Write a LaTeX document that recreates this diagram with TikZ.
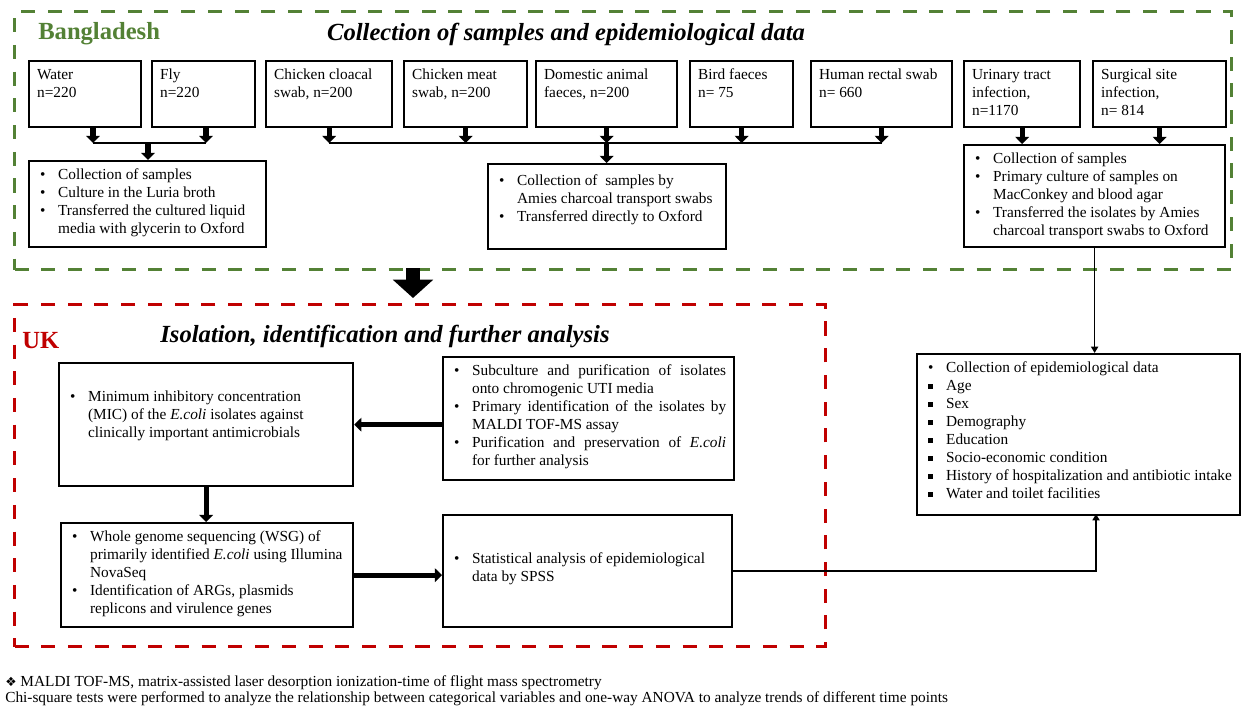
\documentclass[tikz,border=0pt]{standalone}
\usepackage{fontspec}
\setmainfont{Liberation Serif}
\newfontfamily\symfont{DejaVu Sans}
\usepackage{enumitem}
\usetikzlibrary{positioning,calc,arrows.meta}
\definecolor{BdGreen}{HTML}{538135}
\definecolor{UkRed}{HTML}{C00000}
\newlength\pu
\setlength\pu{0.025cm}
\newcommand\cell[3]{\parbox[t][\dimexpr#2\pu-16\pu\relax][t]{\dimexpr#1\pu-16\pu\relax}{\raggedright #3}}
\newcommand\jcell[3]{\parbox[t][\dimexpr#2\pu-16\pu\relax][t]{\dimexpr#1\pu-16\pu\relax}{#3}}
\newenvironment{blist}{\begin{itemize}[nosep,leftmargin=21\pu,labelwidth=18\pu,labelsep=3\pu,align=left,label=\hspace{3\pu}\textbullet]}{\end{itemize}}
\newcommand\sqb{\hspace{3\pu}\rule[0.12em]{0.33em}{0.33em}}

\begin{document}
\begin{tikzpicture}[x=0.025cm, y=-0.025cm,
  box/.style={draw, line width=1.6pt, anchor=north west, inner xsep=8\pu, inner ysep=8\pu, font=\fontsize{10.9}{12.8}\selectfont},
  regionbox/.style={line width=2.4pt, dash pattern=on 10pt off 9pt, anchor=north west, inner sep=0pt},
  place/.style={font=\fontsize{17.5}{20}\selectfont\bfseries, anchor=base west, inner sep=0pt},
  regiontitle/.style={font=\fontsize{17.5}{20}\selectfont\bfseries\itshape, anchor=base, inner sep=0pt},
  thickarr/.style={line width=3.6pt, -{Triangle[length=5pt,width=9.5pt]}},
  thinarr/.style={line width=1.1pt, -{Triangle[length=4.5pt,width=5pt]}},
  joinline/.style={line width=1.1pt},
  bigarr/.style={line width=10.5pt, -{Triangle[length=13pt,width=28pt]}}]
  \useasboundingbox (0,0) rectangle (1241,711);

  %% Dashed regions
  \node[regionbox, draw=BdGreen, minimum width=1217\pu, minimum height=258\pu] (bd) at (13,10) {};
  \node[regionbox, draw=UkRed, minimum width=811\pu, minimum height=342\pu] (uk) at (13,303) {};
  \node[place, color=BdGreen] (bdname) at (38,39) {Bangladesh};
  \node[regiontitle] (bdtitle) at (566,40) {Collection of samples and epidemiological data};
  \node[place, color=UkRed] (ukname) at (22,348) {UK};
  \node[regiontitle] (uktitle) at (385,342) {Isolation, identification and further analysis};

  %% Sample sources
  \foreach \nm/\x/\w/\txt in {water/28/112/{Water\\n=220}, fly/151/103/{Fly\\n=220},
      cloacal/265/126/{Chicken cloacal\\swab, n=200}, meat/403/123/{Chicken meat\\swab, n=200},
      dom/535/141/{Domestic animal\\faeces, n=200}, bird/689/103/{Bird faeces\\n= 75},
      human/810/141/{Human rectal swab\\n= 660}, uti/963/116/{Urinary tract\\infection,\\n=1170},
      ssi/1092/133/{Surgical site\\infection,\\n= 814}} {%
    \node[box] (\nm) at (\x,60) {\cell{\w}{66}{\txt}};
  }

  %% Collection steps
  \node[box] (coll1) at (28,160) {\cell{237}{86}{\begin{blist}
    \item Collection of samples
    \item Culture in the Luria broth
    \item Transferred the cultured liquid\\media with glycerin to Oxford
  \end{blist}}};
  \node[box] (coll2) at (487,163) {\cell{238}{85}{\vspace*{3\pu}\begin{blist}
    \item Collection of\ \ samples by\\Amies charcoal transport swabs
    \item Transferred directly to Oxford
  \end{blist}}};
  \node[box] (coll3) at (963,144) {\cell{261}{102}{\begin{blist}
    \item Collection of samples
    \item Primary culture of samples on\\MacConkey and blood agar
    \item Transferred the isolates by Amies\\charcoal transport swabs to Oxford
  \end{blist}}};

  %% Laboratory steps
  \node[box] (mic) at (58,362) {\cell{294}{123}{\vspace*{20\pu}\begin{blist}
    \item Minimum inhibitory concentration\\(MIC) of the \textit{E.coli} isolates against\\clinically important antimicrobials
  \end{blist}}};
  \node[box] (sub) at (442,356) {\jcell{291}{123}{\begin{blist}
    \item Subculture and purification of isolates\linebreak onto chromogenic UTI media
    \item Primary identification of the isolates by\linebreak MALDI TOF-MS assay
    \item Purification and preservation of \textit{E.coli}\linebreak for further analysis
  \end{blist}}};
  \node[box] (wgs) at (60,522) {\cell{292}{104}{\begin{blist}
    \item Whole genome sequencing (WSG) of\\primarily identified \textit{E.coli} using Illumina\\NovaSeq
    \item Identification of ARGs, plasmids\\replicons and virulence genes
  \end{blist}}};
  \node[box] (stats) at (442,514) {\cell{289}{112}{\vspace*{30\pu}\begin{blist}
    \item Statistical analysis of epidemiological\\data by SPSS
  \end{blist}}};
  \node[box] (epi) at (916,353) {\cell{323}{161}{\begin{blist}
    \item Collection of epidemiological data
    \item[\sqb] Age
    \item[\sqb] Sex
    \item[\sqb] Demography
    \item[\sqb] Education
    \item[\sqb] Socio-economic condition
    \item[\sqb] History of hospitalization and antibiotic intake
    \item[\sqb] Water and toilet facilities
  \end{blist}}};

  %% Joins
  \coordinate (wj) at (93,143);
  \coordinate (fj) at (206,143);
  \coordinate (cj) at (148,143);
  \coordinate (mj) at (0,143);
  \coordinate (drop) at (413,268);
  \coordinate (epiin) at (1096,514);

  \draw[thickarr] (wj |- water.south) -- (wj);
  \draw[thickarr] (fj |- fly.south) -- (fj);
  \draw[joinline] (wj) -- (fj);
  \draw[thickarr] (cj) -- (cj |- coll1.north);

  \foreach \nm in {cloacal,meat,dom,bird,human}
    \draw[thickarr] (\nm.south) -- (\nm.south |- mj);
  \draw[joinline] (cloacal.south |- mj) -- (human.south |- mj);
  \draw[thickarr] (dom.south |- mj) -- (dom.south |- coll2.north);

  \draw[thickarr] (uti.south) -- (uti.south |- coll3.north);
  \draw[thickarr] (ssi.south) -- (ssi.south |- coll3.north);

  \draw[bigarr] (drop) -- ([yshift=5\pu]drop |- uk.north);

  \draw[thickarr] (sub.west |- mic.east) -- (mic.east);
  \draw[thickarr] (mic.south) -- (mic.south |- wgs.north);
  \draw[thickarr] (wgs.east) -- (wgs.east -| stats.west);
  \draw[thinarr] (stats.east) -| (epiin);
  \draw[thinarr] (coll3.south) -- (coll3.south |- epi.north);

  %% Notes
  \node[anchor=base west, align=left, inner sep=0pt, font=\fontsize{10.9}{10.7}\selectfont] (notes) at (5,702)
    {{\symfont\small ❖} MALDI TOF-MS, matrix-assisted laser desorption ionization-time of flight mass spectrometry\\
     Chi-square tests were performed to analyze the relationship between categorical variables and one-way ANOVA to analyze trends of different time points};
\end{tikzpicture}
\end{document}
